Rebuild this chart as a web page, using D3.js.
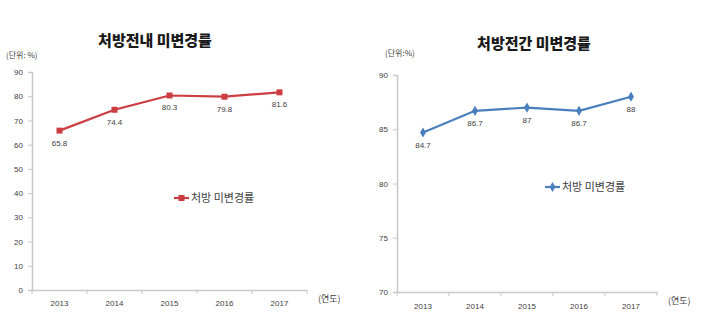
<!DOCTYPE html>
<html><head><meta charset="utf-8">
<script src="https://cdn.jsdelivr.net/npm/d3@7"></script>
<style>body{margin:0;background:#fff}svg{display:block}</style>
</head><body>
<svg id="c" width="701" height="332"></svg>
<script>
const years = ["2013","2014","2015","2016","2017"];
const withinValues = [65.8, 74.4, 80.3, 79.8, 81.6];
const betweenValues = [84.7, 86.7, 87, 86.7, 88];
const withinTicks = [0,10,20,30,40,50,60,70,80,90];
const betweenTicks = [70,75,80,85,90];
const withinTitle = "처방전내 미변경률";
const betweenTitle = "처방전간 미변경률";
const legendLabel = "처방 미변경률";

const svg = d3.select("#c");
const KFONT = "'Noto Sans CJK KR', sans-serif";
const NFONT = "'Liberation Sans', Arial, sans-serif";
const axisColor = "#c8c8c8";
const textColor = "#404040";

function panel(o) {
  const g = svg.append("g");
  const x = d3.scaleBand().domain(years).range([o.x0, o.x1]);
  const y = d3.scaleLinear().domain(o.domain).range([o.y0, o.y1]);
  g.append("text").attr("x", o.titleX).attr("y", o.titleY).attr("text-anchor","middle")
    .attr("font-family", KFONT).attr("font-weight","900").attr("font-size", 15).attr("fill","#1a1a1a")
    .text(o.title);
  g.append("text").attr("x", o.unitX).attr("y", o.unitY)
    .attr("font-family", KFONT).attr("font-size", 8).attr("fill", textColor).text(o.unit);
  const ya = g.append("g").attr("transform", `translate(${o.x0},0)`)
    .call(d3.axisLeft(y).tickValues(o.ticks).tickSize(4).tickPadding(5));
  ya.select(".domain").attr("stroke", axisColor).attr("stroke-width", 1.5);
  ya.selectAll(".tick line").attr("stroke", axisColor);
  ya.selectAll("text").attr("font-family", NFONT).attr("font-size", 8).attr("fill", textColor);
  const xa = g.append("g").attr("transform", `translate(0,${o.y0})`)
    .call(d3.axisBottom(x).tickSize(0).tickPadding(o.xPad));
  xa.select(".domain").attr("stroke", axisColor).attr("stroke-width", 1.5);
  xa.selectAll("text").attr("font-family", NFONT).attr("font-size", 8).attr("fill", textColor);
  const bounds = [o.x0].concat(years.map(d => x(d) + x.bandwidth()));
  g.selectAll(".xt").data(bounds).enter().append("line")
    .attr("x1", d => d).attr("x2", d => d).attr("y1", o.y0).attr("y2", o.y0 + 4)
    .attr("stroke", axisColor);
  g.append("text").attr("x", o.x1 + 11).attr("y", o.y0 + 12)
    .attr("font-family", KFONT).attr("font-size", 9).attr("fill", textColor).text("(연도)");
  const cx = d => x(d) + x.bandwidth()/2;
  const data = years.map((yr,i) => ({yr, v: o.values[i]}));
  g.append("path").datum(data)
    .attr("d", d3.line().x(d => cx(d.yr)).y(d => y(d.v)))
    .attr("fill","none").attr("stroke", o.color).attr("stroke-width", 2.2);
  const sym = d3.symbol().type(o.symbol).size(o.symSize);
  g.selectAll(".m").data(data).enter().append("path")
    .attr("transform", d => `translate(${cx(d.yr)},${y(d.v)})`)
    .attr("d", sym).attr("fill", o.color);
  g.selectAll(".lbl").data(data).enter().append("text")
    .attr("x", d => cx(d.yr)).attr("y", d => y(d.v) + 15).attr("text-anchor","middle")
    .attr("font-family", NFONT).attr("font-size", 8).attr("fill", textColor)
    .text(d => d.v);
  g.append("line").attr("x1", o.legX).attr("x2", o.legX + 15).attr("y1", o.legY).attr("y2", o.legY)
    .attr("stroke", o.color).attr("stroke-width", 2.2);
  g.append("path").attr("transform", `translate(${o.legX+7.5},${o.legY})`).attr("d", sym).attr("fill", o.color);
  g.append("text").attr("x", o.legX + 17).attr("y", o.legY + 4)
    .attr("font-family", KFONT).attr("font-size", 11).attr("fill", textColor).text(legendLabel);
}

panel({x0:32, x1:307, y0:290, y1:72, domain:[0,90], ticks:withinTicks, values:withinValues,
  color:"#cc3d42", symbol:d3.symbolSquare, symSize:36, title:withinTitle, titleX:155, titleY:46,
  unit:"(단위: %)", unitX:6, unitY:58, legX:174, legY:198, xPad:10});
panel({x0:397, x1:657, y0:292, y1:75, domain:[70,90], ticks:betweenTicks, values:betweenValues,
  color:"#4a7fbd", symbol:d3.symbolDiamond, symSize:30, title:betweenTitle, titleX:534, titleY:49,
  unit:"(단위:%)", unitX:385, unitY:56, legX:545, legY:187, xPad:11});
</script>
</body></html>
